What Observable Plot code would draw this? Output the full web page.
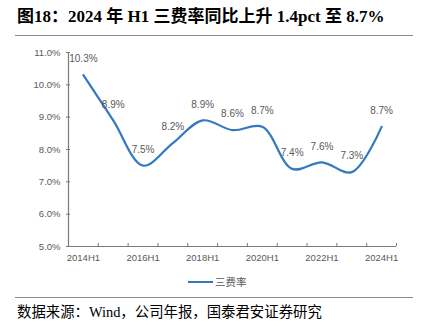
<!DOCTYPE html>
<html>
<head>
<meta charset="utf-8">
<script src="https://cdn.jsdelivr.net/npm/d3@7"></script>
<script src="https://cdn.jsdelivr.net/npm/@observablehq/plot@0.6"></script>
<style>
  html, body { margin: 0; padding: 0; background: #fff; }
  #page { position: relative; width: 427px; height: 326px; overflow: hidden; }
  #title { position: absolute; left: 17px; top: 2px; font-family: "Liberation Serif", "Noto Sans CJK SC", serif; font-weight: bold; font-size: 17px; color: #000; white-space: nowrap; }
  .rule { position: absolute; left: 15px; width: 398px; height: 0; border-top: 1.5px solid #8c8c8c; }
  #chart { position: absolute; left: 0; top: 40px; }
  #legend { position: absolute; top: 274px; left: 188px; font-family: "Noto Sans CJK SC", sans-serif; font-size: 10.5px; color: #595959; display: flex; align-items: center; white-space: nowrap; }
  #legend .sw { display: inline-block; width: 25px; height: 0; border-top: 2.2px solid #3478c0; margin-right: 2px; }
  #caption { position: absolute; left: 17px; top: 300px; font-family: "Liberation Serif", "Noto Sans CJK SC", serif; font-size: 14.4px; color: #000; white-space: nowrap; }
</style>
</head>
<body>
<div id="page">
  <div id="title">图18：2024 年 H1 三费率同比上升 1.4pct 至 8.7%</div>
  <div class="rule" style="top:35px"></div>
  <div id="chart"></div>
  <div id="legend"><span class="sw"></span><span>三费率</span></div>
  <div class="rule" style="top:297px"></div>
  <div id="caption">数据来源：Wind，公司年报，国泰君安证券研究</div>
</div>
<script>
const periods = ["2014H1","2015H1","2016H1","2017H1","2018H1","2019H1","2020H1","2021H1","2022H1","2023H1","2024H1"];
const rates = [10.3, 8.9, 7.5, 8.2, 8.9, 8.6, 8.7, 7.4, 7.6, 7.3, 8.7];
const yTicks = [5, 6, 7, 8, 9, 10, 11];
const xTickLabels = ["2014H1","2016H1","2018H1","2020H1","2022H1","2024H1"];
const seriesName = "三费率";

const data = periods.map((p, i) => ({period: p, pos: i + 0.5, rate: rates[i]}));
const labelPos = xTickLabels.map(l => periods.indexOf(l) + 0.5);
const boundaries = d3.range(1, periods.length + 1);

const axisColor = "#7a7a7a";
const textColor = "#595959";
const lineColor = "#3478c0";

const chart = Plot.plot({
  width: 427,
  height: 225,
  marginLeft: 68,
  marginRight: 31,
  marginTop: 12,
  marginBottom: 19,
  style: {fontFamily: "'Liberation Sans', Arial, sans-serif", fontSize: "9.5px", color: textColor, background: "transparent"},
  x: {type: "linear", domain: [0, periods.length], label: null},
  y: {domain: [5, 11], label: null},
  marks: [
    Plot.axisY(yTicks, {tickSize: 0, tickPadding: 8, tickFormat: d => d.toFixed(1) + "%", fill: textColor, fontSize: 9.5, label: null}),
    Plot.axisY(yTicks, {tickSize: 4, tickFormat: () => "", dx: 2, stroke: axisColor, label: null}),
    Plot.axisX(labelPos, {tickSize: 0, tickPadding: 8, tickFormat: v => periods[Math.floor(v)], fill: textColor, fontSize: 9.5, label: null}),
    Plot.axisX(boundaries, {tickSize: 3, tickFormat: () => "", dy: -3, stroke: axisColor, label: null}),
    Plot.ruleX([0], {stroke: axisColor, strokeWidth: 1.2}),
    Plot.ruleY([5], {stroke: axisColor, strokeWidth: 1.2}),
    Plot.line(data, {x: "pos", y: "rate", curve: "catmull-rom", stroke: lineColor, strokeWidth: 2.2}),
    Plot.text(data, {x: "pos", y: "rate", text: d => d.rate.toFixed(1) + "%", dy: -16, fill: textColor, fontSize: 10})
  ]
});
document.getElementById("chart").appendChild(chart);
</script>
</body>
</html>
